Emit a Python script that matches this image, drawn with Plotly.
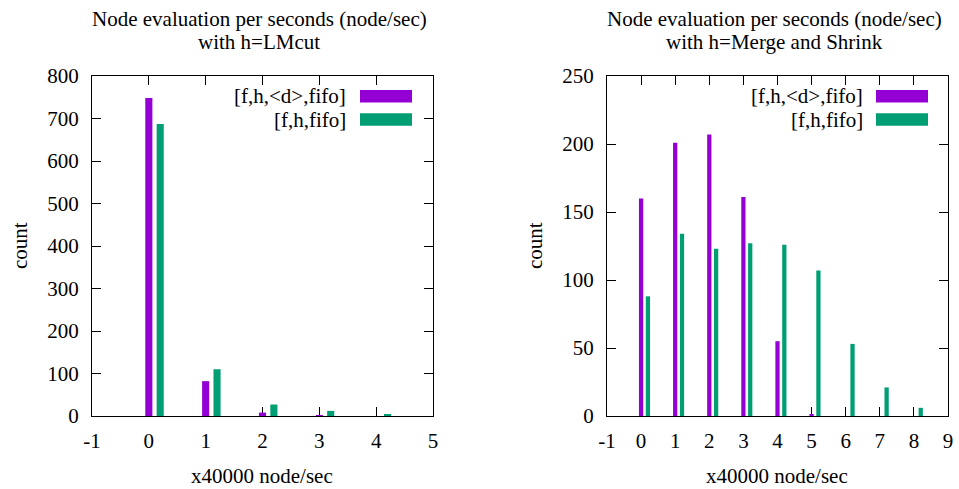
import plotly.graph_objects as go

# ---- data ----
left_cats = [0, 1, 2, 3, 4]
left_dfifo = [748, 82, 8, 1, 0]
left_fifo = [687, 110, 27, 12, 3]

right_cats = [0, 1, 2, 3, 4, 5, 6, 7, 8]
right_dfifo = [160, 201, 207, 161, 55, 1, 0, 0, 0]
right_fifo = [88, 134, 123, 127, 126, 107, 53, 21, 6]

left_xticks = [-1, 0, 1, 2, 3, 4, 5]
left_xticklabels = ["-1", "0", "1", "2", "3", "4", "5"]
right_xticks = [-1, 0, 1, 2, 3, 4, 5, 6, 7, 8, 9]
right_xticklabels = ["-1", "0", "1", "2", "3", "4", "5", "6", "7", "8", "9"]
left_yticks = [0, 100, 200, 300, 400, 500, 600, 700, 800]
right_yticks = [0, 50, 100, 150, 200, 250]

series_names = ["[f,h,<d>,fifo]", "[f,h,fifo]"]
titles = ["Node evaluation per seconds (node/sec)", "with h=LMcut", "with h=Merge and Shrink"]
xlabel = "x40000 node/sec"
ylabel = "count"

# ---- style ----
W, H = 959, 489
PURPLE = "#9400D3"
GREEN = "#009E73"
FONT = "Liberation Serif"
FS = 21
BW = 0.125
SHIFT = 0.2

def px(x):
    return x / W

def py(y):
    return 1 - y / H

fig = go.Figure()

for xs, d1, d2, xa, ya in [
    (left_cats, left_dfifo, left_fifo, "x", "y"),
    (right_cats, right_dfifo, right_fifo, "x2", "y2"),
]:
    fig.add_trace(go.Bar(x=xs, y=d1, width=BW, offset=-BW / 2, marker=dict(color=PURPLE, line=dict(width=0)),
                         xaxis=xa, yaxis=ya, showlegend=False, name=series_names[0]))
    fig.add_trace(go.Bar(x=xs, y=d2, width=BW, offset=SHIFT - BW / 2, marker=dict(color=GREEN, line=dict(width=0)),
                         xaxis=xa, yaxis=ya, showlegend=False, name=series_names[1]))

axis_common = dict(
    showline=True, linecolor="black", linewidth=1, mirror="allticks",
    ticks="inside", ticklen=9, tickwidth=1, tickcolor="black",
    showgrid=False, zeroline=False, automargin=False, layer="below traces",
    tickfont=dict(family=FONT, size=FS, color="black"),
)

fig.update_layout(
    width=W, height=H,
    margin=dict(l=0, r=0, t=0, b=0),
    plot_bgcolor="white", paper_bgcolor="white",
    barmode="overlay",
    font=dict(family=FONT, size=FS, color="black"),
    xaxis=dict(domain=[px(92), px(433)], range=[-1, 5], tickmode="array", tickvals=left_xticks,
               ticktext=left_xticklabels, anchor="y", ticklabelstandoff=6, **axis_common),
    yaxis=dict(domain=[py(416), py(76)], range=[0, 800], tickmode="array", tickvals=left_yticks,
               anchor="x", ticklabelstandoff=8, **axis_common),
    xaxis2=dict(domain=[px(607), px(948)], range=[-1, 9], tickmode="array", tickvals=right_xticks,
                ticktext=right_xticklabels, anchor="y2", ticklabelstandoff=6, **axis_common),
    yaxis2=dict(domain=[py(416), py(76)], range=[0, 250], tickmode="array", tickvals=right_yticks,
                anchor="x2", ticklabelstandoff=8, **axis_common),
)

ann = []
shapes = []

def text(x, y, s, xanchor="center", angle=0):
    ann.append(dict(x=px(x), y=py(y), xref="paper", yref="paper", text=s, showarrow=False,
                    xanchor=xanchor, yanchor="middle", textangle=angle,
                    font=dict(family=FONT, size=FS, color="black")))

# titles
text(259, 19, titles[0])
text(259, 42, titles[1])
text(774, 19, titles[0])
text(774, 42, titles[2])
# axis labels
text(262, 476, xlabel)
text(777, 476, xlabel)
text(20, 246, ylabel, angle=-90)
text(535, 246, ylabel, angle=-90)

# legends (gnuplot style: text right, key sample on the right)
for tx, rx0, rx1 in [(348, 360, 412), (865, 876, 928)]:
    for (y0, y1), name, col in [((90, 102.5), series_names[0], PURPLE), ((113.3, 125.7), series_names[1], GREEN)]:
        text(tx, (y0 + y1) / 2, name, xanchor="right")
        shapes.append(dict(type="rect", xref="paper", yref="paper", x0=px(rx0), x1=px(rx1),
                           y0=py(y1), y1=py(y0), fillcolor=col, line=dict(width=0)))

fig.update_layout(annotations=ann, shapes=shapes)

fig.write_html("out.html", config={"displayModeBar": False},
               post_script="document.body.style.margin='0';document.body.style.overflow='hidden';")
